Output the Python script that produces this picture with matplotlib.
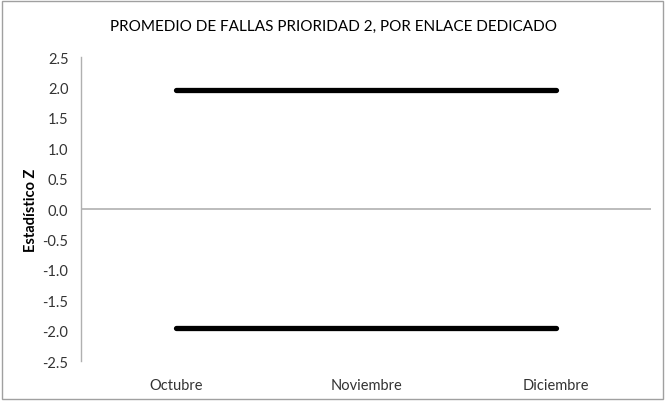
import matplotlib
matplotlib.use("Agg")
import matplotlib.pyplot as plt
from matplotlib.patches import Rectangle

months = ["Octubre", "Noviembre", "Diciembre"]
upper_limit = [1.96, 1.96, 1.96]
lower_limit = [-1.96, -1.96, -1.96]
y_ticks = [-2.5, -2.0, -1.5, -1.0, -0.5, 0.0, 0.5, 1.0, 1.5, 2.0, 2.5]

plt.rcParams["font.family"] = ["Lato", "DejaVu Sans"]

fig = plt.figure(figsize=(6.66, 4.02), dpi=100)
ax = fig.add_axes([0.1216, 0.0995, 0.856, 0.7562])

x = range(len(months))
ax.plot(x, upper_limit, color="black", linewidth=3.8, solid_capstyle="round")
ax.plot(x, lower_limit, color="black", linewidth=3.8, solid_capstyle="round")
ax.axhline(0, color="#b0b0b0", linewidth=1.2, zorder=0)

ax.set_xlim(-0.5, len(months) - 0.5)
ax.set_ylim(-2.5, 2.5)
ax.set_yticks(y_ticks)
ax.set_yticklabels([f"{v:.1f}" for v in y_ticks], fontsize=10.5, color="#333333")
ax.set_xticks(list(x))
ax.set_xticklabels(months, fontsize=10.5, color="#333333")
ax.tick_params(axis="y", length=0, pad=9)
ax.tick_params(axis="x", length=0, pad=12)

for side in ["top", "right", "bottom"]:
    ax.spines[side].set_visible(False)
ax.spines["left"].set_color("#b0b0b0")
ax.spines["left"].set_linewidth(1.0)

ax.set_ylabel("Estadístico Z", fontsize=10.5, fontweight="bold", labelpad=3)
fig.text(0.5, 0.932, "PROMEDIO DE FALLAS PRIORIDAD 2, POR ENLACE DEDICADO",
         ha="center", va="center", fontsize=11)

fig.patches.append(Rectangle((0.003, 0.004), 0.992, 0.992, transform=fig.transFigure,
                             fill=False, edgecolor="#a0a0a0", linewidth=1.0))

fig.savefig("out.png", dpi=100)
